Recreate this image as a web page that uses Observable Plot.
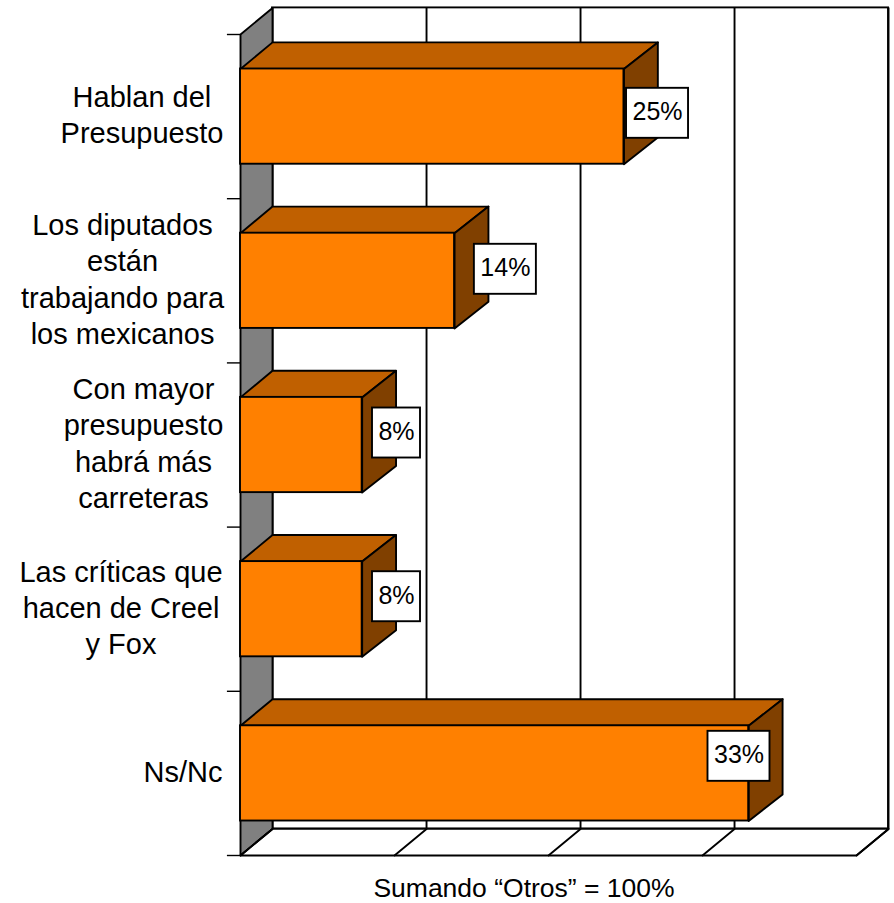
<!DOCTYPE html>
<html>
<head>
<meta charset="utf-8">
<script src="https://cdn.jsdelivr.net/npm/d3@7"></script>
<script src="https://cdn.jsdelivr.net/npm/@observablehq/plot@0.6"></script>
<style>
html,body{margin:0;padding:0;background:#fff;overflow:hidden}
svg{display:block}
#cap{margin:3px 0 0 154px;width:740px;text-align:center;font:26.5px/30px "Liberation Sans",Arial,sans-serif;color:#000}
</style>
</head>
<body>
<div id="chart"></div>
<div id="cap">Sumando “Otros” = 100%</div>
<script>
const categories = [
  "Hablan del\nPresupuesto",
  "Los diputados\nestán\ntrabajando para\nlos mexicanos",
  "Con mayor\npresupuesto\nhabrá más\ncarreteras",
  "Las críticas que\nhacen de Creel\ny Fox",
  "Ns/Nc"
];
const values = [24.9, 13.9, 7.9, 7.9, 33];
const valueLabels = ["25%", "14%", "8%", "8%", "33%"];
const xTicks = [0, 10, 20, 30, 40];
const yTicks = [0, 1, 2, 3, 4, 5];

// In axis units
const labelCenters = [-6.4, -7.66, -6.3, -7.76, -3.73];
const boxCenters = [27.08, 17.2, 10.13, 10.13, 32.37];
const boxShifts = [0.02, 0.07, 0.073, 0.076, 0.104];
const depthX = 2.08, barDepthX = 2.2, depthY = 0.162, barHalf = 0.29;
const boxHalfY = 25 / 164.2;

const n = categories.length;
const bars = categories.map((c, i) => ({
  c, v: values[i], label: valueLabels[i], mid: n - i - 0.5,
  lx: labelCenters[i], bx: boxCenters[i], by: n - i - 0.5 + boxShifts[i],
  half: (valueLabels[i].length > 2 ? 31 : 24) / 15.4
}));
const poly = (id, pts) => [...pts, pts[0]].map(([x, y]) => ({id, x, y}));
const xMax = xTicks[xTicks.length - 1], yMax = n;

const wall = poly("w", [[0,0],[0,yMax],[depthX,yMax+depthY],[depthX,depthY]]);
const floor = poly("f", [[0,0],[xMax,0],[xMax+depthX,depthY],[depthX,depthY]]);
const floorLines = xTicks.flatMap(t => [{id:t,x:t,y:0},{id:t,x:t+depthX,y:depthY}]);
const tops = bars.flatMap((b,i) => poly(i, [
  [0,b.mid+barHalf],[b.v,b.mid+barHalf],[b.v+barDepthX,b.mid+barHalf+depthY],[depthX,b.mid+barHalf+depthY]]));
const sides = bars.flatMap((b,i) => poly(i, [
  [b.v,b.mid-barHalf],[b.v,b.mid+barHalf],[b.v+barDepthX,b.mid+barHalf+depthY],[b.v+barDepthX,b.mid-barHalf+depthY]]));

const lineOpts = {x:"x", y:"y", z:"id", stroke:"#000", strokeWidth:1.9, strokeLinejoin:"round"};

const plot = Plot.plot({
  width: 894, height: 870,
  marginLeft: 240, marginRight: 38, marginTop: 34, marginBottom: 15,
  style: {fontFamily: '"Liberation Sans", Arial, sans-serif', background: "#fff", color: "#000", overflow: "visible"},
  x: {domain: [0, xMax], axis: null},
  y: {domain: [0, yMax], axis: null},
  marks: [
    Plot.rect([0], {x1: depthX, x2: xMax + depthX, y1: depthY, y2: yMax + depthY, fill: "#fff", stroke: "#000", strokeWidth: 1.9}),
    Plot.ruleX(xTicks, {x: d => d + depthX, y1: depthY, y2: yMax + depthY, stroke: "#000", strokeWidth: 1.9}),
    Plot.line(wall, {...lineOpts, fill: "#808080"}),
    Plot.line(floor, {...lineOpts, fill: "#fff"}),
    Plot.line(floorLines, lineOpts),
    Plot.ruleY(yTicks, {y: d => d, x1: -0.85, x2: 0, stroke: "#000", strokeWidth: 1.4}),
    Plot.line(tops, {...lineOpts, fill: "#C06000"}),
    Plot.line(sides, {...lineOpts, fill: "#804000"}),
    Plot.rect(bars, {x1: 0, x2: "v", y1: d => d.mid - barHalf, y2: d => d.mid + barHalf, fill: "#FF8000", stroke: "#000", strokeWidth: 1.9}),
    Plot.rect(bars, {x1: d => d.bx - d.half, x2: d => d.bx + d.half, y1: d => d.by - boxHalfY, y2: d => d.by + boxHalfY, fill: "#fff", stroke: "#000", strokeWidth: 1.9}),
    Plot.text(bars, {x: "bx", y: "by", text: "label", fontSize: 25, dy: -1, fill: "#000"}),
    Plot.text(bars, {x: "lx", y: "mid", text: "c", fontSize: 29, lineHeight: 1.25, dy: -3, textAnchor: "middle", fill: "#000"})
  ]
});
document.getElementById("chart").appendChild(plot);
</script>
</body>
</html>
